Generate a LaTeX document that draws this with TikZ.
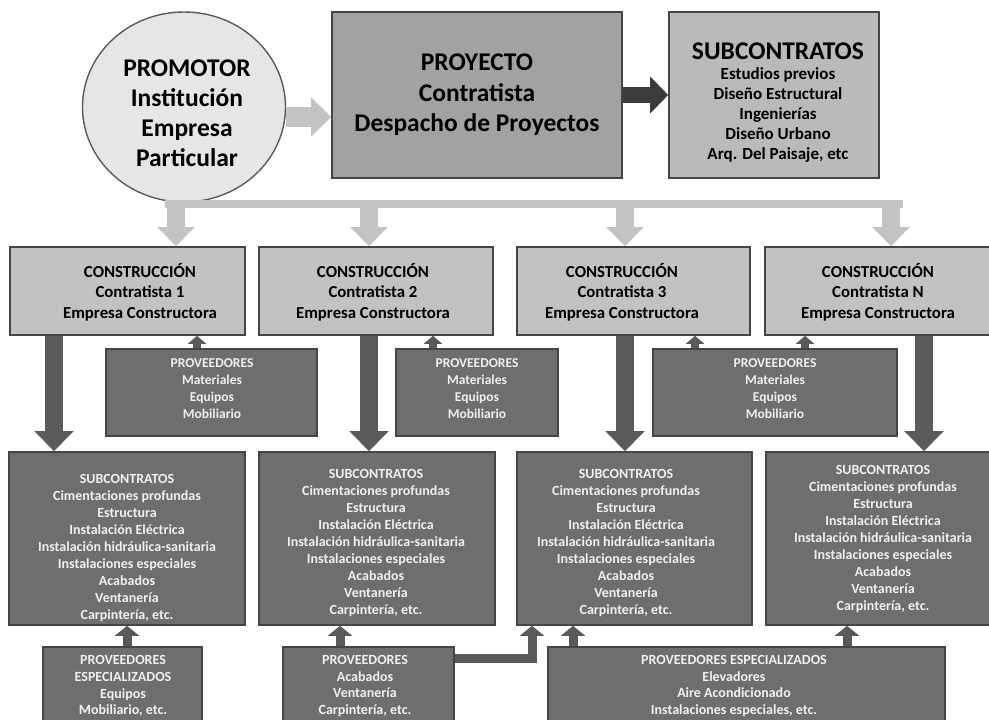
\documentclass[tikz,border=0pt]{standalone}
\usepackage{fontspec}
\setmainfont{Carlito}
\usetikzlibrary{arrows.meta,shapes.geometric}
\definecolor{circfill}{HTML}{E6E6E6}
\definecolor{circdraw}{HTML}{5A5A5A}
\definecolor{proyfill}{HTML}{A2A2A2}
\definecolor{subtopfill}{HTML}{BABABA}
\definecolor{consfill}{HTML}{C1C2C2}
\definecolor{darkfill}{HTML}{6E6E6E}
\definecolor{bordc}{HTML}{454545}
\definecolor{lightarr}{HTML}{C3C3C3}
\definecolor{darkarr}{HTML}{3B3B3B}
\definecolor{midarr}{HTML}{5A5A5A}
\definecolor{txtlight}{HTML}{F0F0F0}
\begin{document}
\begin{tikzpicture}[x=1pt,y=-1pt,
  basebox/.style={draw=bordc, line width=1.6pt, inner sep=0pt, align=center},
  circbox/.style={ellipse, draw=circdraw, line width=1.4pt, fill=circfill, inner sep=0pt},
  circtxt/.style={align=center, inner sep=0pt, font=\fontsize{25.5}{30}\selectfont\bfseries},
  proybox/.style={basebox, fill=proyfill, font=\fontsize{25.5}{30.5}\selectfont\bfseries},
  subtop/.style={basebox, fill=subtopfill},
  subtoptxt/.style={align=center, inner sep=0pt, font=\fontsize{17}{20}\selectfont\bfseries},
  consbox/.style={basebox, fill=consfill, minimum height=88},
  constxt/.style={align=center, inner sep=0pt, font=\fontsize{16.8}{20.5}\selectfont\bfseries},
  provbox/.style={basebox, fill=darkfill, minimum height=87},
  provtxt/.style={align=center, inner sep=0pt, text=txtlight, font=\fontsize{13.5}{17}\selectfont\bfseries},
  subcbox/.style={basebox, fill=darkfill, minimum height=173},
  subctxt/.style={align=center, inner sep=0pt, text=txtlight, font=\fontsize{14}{17}\selectfont\bfseries},
  espbox/.style={basebox, fill=darkfill, minimum height=76},
  esptxt/.style={align=center, inner sep=0pt, text=txtlight, font=\fontsize{14}{16.8}\selectfont\bfseries},
  lightconn/.style={draw=lightarr, line width=20pt, -{Triangle[width=38pt,length=20pt]}},
  darkconn/.style={draw=darkarr, line width=16pt, -{Triangle[width=36pt,length=18pt]}},
  busline/.style={draw=lightarr, line width=8pt},
  busdrop/.style={draw=lightarr, line width=18pt, -{Triangle[width=36pt,length=19pt]}},
  downconn/.style={draw=midarr, line width=18pt, -{Triangle[width=38pt,length=20pt]}},
  upsmall/.style={draw=midarr, line width=8pt, -{Triangle[width=18pt,length=8pt]}},
  upmid/.style={draw=midarr, line width=9pt, line join=miter, -{Triangle[width=24pt,length=10pt]}}
]
\useasboundingbox (0,0) rectangle (989,720);
\fill[white] (0,0) rectangle (989,720);

% top row
\node[circbox, minimum width=203, minimum height=190] (prom) at (184,107) {};
\node[circtxt] (promtxt) at (187,113) {PROMOTOR\\Institución\\Empresa\\Particular};
\node[proybox, minimum width=290, minimum height=166] (proy) at (477,95)
  {PROYECTO\\Contratista\\Despacho de Proyectos};
\node[subtop, minimum width=210, minimum height=166] (subt) at (774,95) {};
\node[subtoptxt] (subttxt) at (778,103)
  {{\fontsize{25.5}{28}\selectfont SUBCONTRATOS}\\Estudios previos\\Diseño Estructural\\Ingenierías\\Diseño Urbano\\Arq. Del Paisaje, etc};

% construction row
\node[consbox, minimum width=235] (c1) at (127.5,291) {};
\node[consbox, minimum width=234] (c2) at (376,291) {};
\node[consbox, minimum width=233] (c3) at (633.5,291) {};
\node[consbox, minimum width=226] (c4) at (878,291) {};
\node[constxt] (c1t) at (140,292) {CONSTRUCCIÓN\\Contratista 1\\Empresa Constructora};
\node[constxt] (c2t) at (373,292) {CONSTRUCCIÓN\\Contratista 2\\Empresa Constructora};
\node[constxt] (c3t) at (622,292) {CONSTRUCCIÓN\\Contratista 3\\Empresa Constructora};
\node[constxt] (c4t) at (878,292) {CONSTRUCCIÓN\\Contratista N\\Empresa Constructora};

% proveedores row
\node[provbox, minimum width=211] (p1) at (211.5,392.5) {};
\node[provbox, minimum width=162] (p2) at (477,392.5) {};
\node[provbox, minimum width=244] (p3) at (775,392.5) {};
\node[provtxt] (p1t) at (212,389) {PROVEEDORES\\Materiales\\Equipos\\Mobiliario};
\node[provtxt] (p2t) at (477,389) {PROVEEDORES\\Materiales\\Equipos\\Mobiliario};
\node[provtxt] (p3t) at (775,389) {PROVEEDORES\\Materiales\\Equipos\\Mobiliario};

% subcontratos row
\newcommand{\subclist}{SUBCONTRATOS\\Cimentaciones profundas\\Estructura\\Instalación Eléctrica\\Instalación hidráulica-sanitaria\\Instalaciones especiales\\Acabados\\Ventanería\\Carpintería, etc.}
\node[subcbox, minimum width=236] (s1) at (127,538.5) {};
\node[subcbox, minimum width=236] (s2) at (377,538.5) {};
\node[subcbox, minimum width=235] (s3) at (634.5,538.5) {};
\node[subcbox, minimum width=225] (s4) at (878.5,538.5) {};
\node[subctxt] (s1t) at (127,548) {\subclist};
\node[subctxt] (s2t) at (376,543) {\subclist};
\node[subctxt] (s3t) at (626,543) {\subclist};
\node[subctxt] (s4t) at (883,539) {\subclist};

% bottom row
\node[espbox, minimum width=159] (q1) at (122.5,685) {};
\node[espbox, minimum width=171] (q2) at (368.5,685) {};
\node[espbox, minimum width=397] (q3) at (746.5,685) {};
\node[esptxt] (q1t) at (123,686) {PROVEEDORES\\ESPECIALIZADOS\\Equipos\\Mobiliario, etc.};
\node[esptxt] (q2t) at (365,686) {PROVEEDORES\\Acabados\\Ventanería\\Carpintería, etc.};
\node[esptxt] (q3t) at (734,686) {PROVEEDORES ESPECIALIZADOS\\Elevadores\\Aire Acondicionado\\Instalaciones especiales, etc.};

% helper coordinates
\coordinate (ya) at (0,117);
\coordinate (yb) at (0,95);
\coordinate (bL) at (165,204);
\coordinate (bR) at (903,204);
\coordinate (b1) at (176,200);
\coordinate (b2) at (369,200);
\coordinate (b3) at (625,200);
\coordinate (b4) at (891,200);
\coordinate (d1) at (54,0);
\coordinate (d2) at (369,0);
\coordinate (d3) at (625,0);
\coordinate (d4) at (924,0);
\coordinate (u1) at (197,0);
\coordinate (u2) at (433,0);
\coordinate (u3) at (695,0);
\coordinate (u4) at (805,0);
\coordinate (v1) at (127,0);
\coordinate (v2) at (340,0);
\coordinate (v3) at (573,0);
\coordinate (v4) at (847,0);
\coordinate (ex) at (532,0);
\coordinate (ey) at (0,658);

% connectors
\draw[lightconn] (prom.east |- ya) -- (proy.west |- ya);
\draw[darkconn] (proy.east |- yb) -- (subt.west |- yb);
\draw[busline] (bL) -- (bR);
\draw[busdrop] (b1) -- (b1 |- c1.north);
\draw[busdrop] (b2) -- (b2 |- c2.north);
\draw[busdrop] (b3) -- (b3 |- c3.north);
\draw[busdrop] (b4) -- (b4 |- c4.north);

\draw[downconn] (d1 |- c1.south) -- (d1 |- s1.north);
\draw[downconn] (d2 |- c2.south) -- (d2 |- s2.north);
\draw[downconn] (d3 |- c3.south) -- (d3 |- s3.north);
\draw[downconn] (d4 |- c4.south) -- (d4 |- s4.north);

\draw[upsmall] (u1 |- p1.north) -- (u1 |- c1.south);
\draw[upsmall] (u2 |- p2.north) -- (u2 |- c2.south);
\draw[upsmall] (u3 |- p3.north) -- (u3 |- c3.south);
\draw[upsmall] (u4 |- p3.north) -- (u4 |- c4.south);

\draw[upmid] (v1 |- q1.north) -- (v1 |- s1.south);
\draw[upmid] (v2 |- q2.north) -- (v2 |- s2.south);
\draw[upmid] (q2.east |- ey) -- (ex |- ey) -- (ex |- s3.south);
\draw[upmid] (v3 |- q3.north) -- (v3 |- s3.south);
\draw[upmid] (v4 |- q3.north) -- (v4 |- s4.south);
\end{tikzpicture}
\end{document}
